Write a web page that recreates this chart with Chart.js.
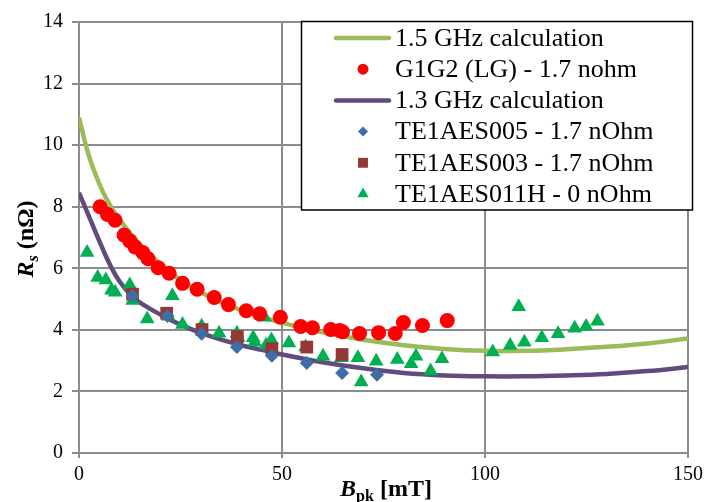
<!DOCTYPE html>
<html>
<head>
<meta charset="utf-8">
<script src="https://cdn.jsdelivr.net/npm/chart.js@4/dist/chart.umd.min.js"></script>
<style>
  html, body { margin: 0; padding: 0; background: #fff; }
  #wrap { width: 708px; height: 502px; }
</style>
</head>
<body>
<div id="wrap"><canvas id="rs" width="708" height="502"></canvas></div>
<script>
// Rs vs peak field, calculations and measured cavities
const calc15X = [0, 2, 4, 6, 8, 10, 13, 16, 20, 25, 30, 35, 40, 45, 50, 60, 70, 80, 90, 100, 110, 120, 130, 140, 150];
const calc15Y = [10.9, 9.85, 9.07, 8.45, 7.98, 7.58, 7.08, 6.65, 6.15, 5.62, 5.22, 4.9, 4.63, 4.42, 4.23, 3.92, 3.68, 3.5, 3.38, 3.32, 3.32, 3.37, 3.45, 3.56, 3.72];

const calc13X = [0, 2, 4, 6, 8, 10, 13, 16, 20, 25, 30, 35, 40, 45, 50, 60, 70, 80, 90, 100, 110, 120, 130, 140, 150];
const calc13Y = [8.45, 7.83, 7.2, 6.58, 6.02, 5.57, 5.1, 4.8, 4.5, 4.17, 3.9, 3.68, 3.5, 3.35, 3.2, 2.95, 2.75, 2.6, 2.52, 2.49, 2.49, 2.52, 2.57, 2.66, 2.79];

const g1g2X = [5.2, 7.0, 8.9, 11.1, 12.5, 13.8, 15.7, 17.0, 19.5, 22.2, 25.5, 29.1, 33.3, 36.8, 41.2, 44.5, 49.6, 54.6, 57.5, 62.0, 64.2, 64.9, 69.1, 73.8, 77.9, 79.9, 84.6, 90.7];
const g1g2Y = [8.0, 7.75, 7.56, 7.08, 6.89, 6.69, 6.51, 6.31, 6.02, 5.84, 5.51, 5.32, 5.05, 4.82, 4.62, 4.52, 4.41, 4.11, 4.07, 4.01, 3.98, 3.94, 3.88, 3.91, 3.88, 4.24, 4.14, 4.3];

const aes005X = [13.2, 21.8, 30.2, 38.9, 47.5, 56.1, 64.8, 73.4];
const aes005Y = [5.1, 4.45, 3.87, 3.44, 3.16, 2.92, 2.6, 2.54];

const aes003X = [13.2, 21.6, 30.3, 39.0, 47.5, 56.1, 64.8];
const aes003Y = [5.16, 4.54, 4.01, 3.78, 3.39, 3.44, 3.2];

const aes011X = [2.0, 4.6, 6.6, 8.0, 8.9, 12.5, 13.2, 16.8, 22.0, 23.0, 25.5, 30.2, 34.5, 38.9, 39.2, 42.9, 43.3, 45.7, 46.1, 47.4, 51.7, 55.8, 60.1, 64.6, 68.7, 69.5, 73.2, 78.4, 81.8, 83.0, 86.6, 89.4, 101.9, 106.2, 108.3, 109.7, 114.0, 118.0, 122.1, 124.9, 127.7];
const aes011Y = [6.51, 5.7, 5.62, 5.29, 5.22, 5.46, 4.95, 4.35, 4.44, 5.11, 4.17, 4.12, 3.89, 3.89, 3.75, 3.74, 3.6, 4.41, 3.51, 3.67, 3.57, 3.44, 3.14, 3.09, 3.09, 2.31, 2.98, 3.04, 2.9, 3.14, 2.66, 3.06, 3.28, 3.49, 4.75, 3.6, 3.74, 3.87, 4.05, 4.11, 4.28];

const xTicks = [0, 50, 100, 150];
const yTicks = [0, 2, 4, 6, 8, 10, 12, 14];

const pairs = (xs, ys) => xs.map((x, i) => ({ x: x, y: ys[i] }));

const SERIF = "'Liberation Serif', 'Times New Roman', serif";
const GRID = '#8c8c8c';

let lineSet = (label, xs, ys, color) => ({
    label: label,
    data: pairs(xs, ys),
    showLine: true,
    borderColor: color,
    backgroundColor: color,
    borderWidth: 4.5,
    pointRadius: 0,
    tension: 0.4,
    order: 10,
    legendStyle: 'line'
});

let markSet = (label, xs, ys, color, style, r, lr) => ({
    label: label,
    data: pairs(xs, ys),
    showLine: false,
    backgroundColor: color,
    borderColor: color,
    borderWidth: 0,
    pointStyle: style,
    pointRadius: r,
    order: 1,
    legendStyle: 'point',
    legendRadius: lr
});

const datasets = [
    lineSet('1.5 GHz calculation', calc15X, calc15Y, '#9bbb59'),
    markSet('G1G2 (LG) - 1.7 nohm', g1g2X, g1g2Y, '#ff0000', 'circle', 7.5, 5.5),
    lineSet('1.3 GHz calculation', calc13X, calc13Y, '#614b7e'),
    markSet('TE1AES005 - 1.7 nOhm', aes005X, aes005Y, '#3f6ea6', 'rectRot', 7, 5),
    markSet('TE1AES003 - 1.7 nOhm', aes003X, aes003Y, '#953735', 'rect', 9, 7),
    markSet('TE1AES011H - 0 nOhm', aes011X, aes011Y, '#00b050', 'triangle', 8.5, 6.5)
];

// boxed legend sitting inside the plot, top right
const boxLegend = {
    id: 'boxLegend',
    afterDraw(chart) {
        const ctx = chart.ctx;
        const bx = 301.5, by = 21.5, bw = 391, bh = 188.5;
        ctx.save();
        ctx.fillStyle = '#fff';
        ctx.fillRect(bx, by, bw, bh);
        ctx.strokeStyle = '#000';
        ctx.lineWidth = 1.5;
        ctx.strokeRect(bx, by, bw, bh);
        ctx.font = '26px ' + SERIF;
        ctx.textBaseline = 'middle';
        chart.data.datasets.forEach((ds, i) => {
            const y = 38 + i * 31.2;
            if (ds.legendStyle === 'line') {
                ctx.strokeStyle = ds.borderColor;
                ctx.lineWidth = 4.5;
                ctx.lineCap = 'round';
                ctx.beginPath();
                ctx.moveTo(336, y);
                ctx.lineTo(389, y);
                ctx.stroke();
            } else {
                ctx.fillStyle = ds.backgroundColor;
                Chart.helpers.drawPoint(ctx, { pointStyle: ds.pointStyle, radius: ds.legendRadius, rotation: 0, borderWidth: 0 }, 363, y);
            }
            ctx.fillStyle = '#000';
            ctx.fillText(ds.label, 395, y + 1);
        });
        ctx.restore();
    }
};

// axis titles with italic symbols and subscripts
function richText(ctx, parts, x, y) {
    let w = 0;
    parts.forEach(p => { ctx.font = p.font; w += ctx.measureText(p.t).width; });
    let cx = x - w / 2;
    parts.forEach(p => {
        ctx.font = p.font;
        ctx.fillText(p.t, cx, y + (p.dy || 0));
        cx += ctx.measureText(p.t).width;
    });
}

const axisTitles = {
    id: 'axisTitles',
    afterDraw(chart) {
        const ctx = chart.ctx;
        ctx.save();
        ctx.fillStyle = '#000';
        ctx.textBaseline = 'alphabetic';
        richText(ctx, [
            { t: 'B', font: 'italic bold 24px ' + SERIF },
            { t: 'pk', font: 'bold 16px ' + SERIF, dy: 5 },
            { t: ' [mT]', font: 'bold 24px ' + SERIF }
        ], 386, 496);
        ctx.translate(33, 239);
        ctx.rotate(-Math.PI / 2);
        richText(ctx, [
            { t: 'R', font: 'italic bold 24px ' + SERIF },
            { t: 's', font: 'italic bold 16px ' + SERIF, dy: 5 },
            { t: ' (nΩ)', font: 'bold 24px ' + SERIF }
        ], 0, 0);
        ctx.restore();
    }
};

new Chart(document.getElementById('rs'), {
    type: 'scatter',
    data: { datasets: datasets },
    options: {
        responsive: false,
        animation: false,
        devicePixelRatio: 1,
        layout: { padding: { top: 22, right: 19, left: 0, bottom: 0 } },
        plugins: { legend: { display: false }, tooltip: { enabled: false } },
        scales: {
            x: {
                type: 'linear',
                min: 0,
                max: 150,
                afterBuildTicks: s => { s.ticks = xTicks.map(v => ({ value: v })); },
                afterFit: s => { s.height = 49; },
                ticks: { color: '#000', font: { family: SERIF, size: 20 }, padding: 5 },
                grid: { color: GRID, lineWidth: 2, tickLength: 5, tickColor: GRID },
                border: { color: GRID, width: 2 }
            },
            y: {
                type: 'linear',
                min: 0,
                max: 14,
                afterBuildTicks: s => { s.ticks = yTicks.map(v => ({ value: v })); },
                afterFit: s => { s.width = 79; },
                ticks: { color: '#000', font: { family: SERIF, size: 20 }, padding: 9 },
                grid: { color: GRID, lineWidth: 2, tickLength: 7, tickColor: GRID },
                border: { color: GRID, width: 2 }
            }
        }
    },
    plugins: [boxLegend, axisTitles]
});
</script>
</body>
</html>
